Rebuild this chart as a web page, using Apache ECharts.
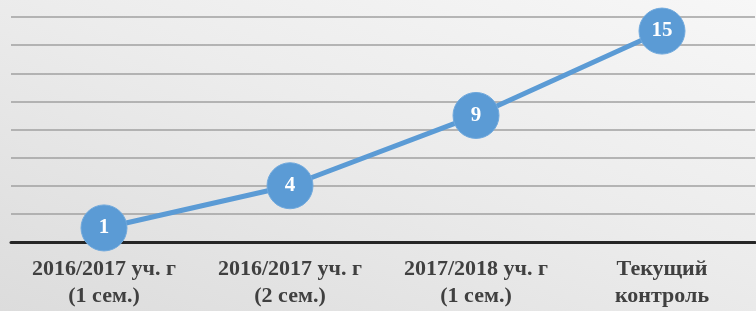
<!DOCTYPE html>
<html>
<head>
<meta charset="utf-8">
<script src="https://cdn.jsdelivr.net/npm/echarts@6/dist/echarts.min.js"></script>
<style>
  html, body { margin: 0; padding: 0; }
  #chart {
    width: 756px; height: 311px;
    background: linear-gradient(200deg, #f7f7f7 0%, #ececec 45%, #dcdcdc 100%);
  }
</style>
</head>
<body>
<div id="chart"></div>
<script>
// categories and values
const categories = [
  "2016/2017 уч. г\n(1 сем.)",
  "2016/2017 уч. г\n(2 сем.)",
  "2017/2018 уч. г\n(1 сем.)",
  "Текущий\nконтроль"
];
const values = [1, 4, 9, 15];

(function(){
  const chart = echarts.init(document.getElementById("chart"));
  const serif = "'Liberation Serif', 'DejaVu Serif', serif";

  chart.setOption({
    animation: false,
    grid: { left: 11, right: 1, top: 17, bottom: 69 },
    xAxis: {
      type: "category",
      data: categories,
      axisTick: { show: false },
      axisLine: { lineStyle: { color: "#262626", width: 3 } },
      axisLabel: {
        interval: 0,
        margin: 14,
        fontFamily: serif,
        fontWeight: "bold",
        fontSize: 22,
        lineHeight: 27,
        color: "#404040"
      }
    },
    yAxis: {
      type: "value",
      min: 0, max: 16, interval: 2,
      axisLabel: { show: false },
      axisLine: { show: false },
      axisTick: { show: false },
      splitLine: { lineStyle: { color: "#a0a0a0", width: 1.5 } }
    },
    series: [{
      type: "line",
      data: values,
      symbol: "circle",
      symbolSize: 46,
      lineStyle: { color: "#5b9bd5", width: 5 },
      itemStyle: { color: "#5b9bd5", borderColor: "#6fa8dc", borderWidth: 1 },
      label: {
        show: true,
        position: "inside",
        color: "#ffffff",
        fontFamily: serif,
        fontWeight: "bold",
        fontSize: 21
      }
    }]
  });

  window.addEventListener("resize", ()=>chart.resize());
})();
</script>
</body>
</html>
